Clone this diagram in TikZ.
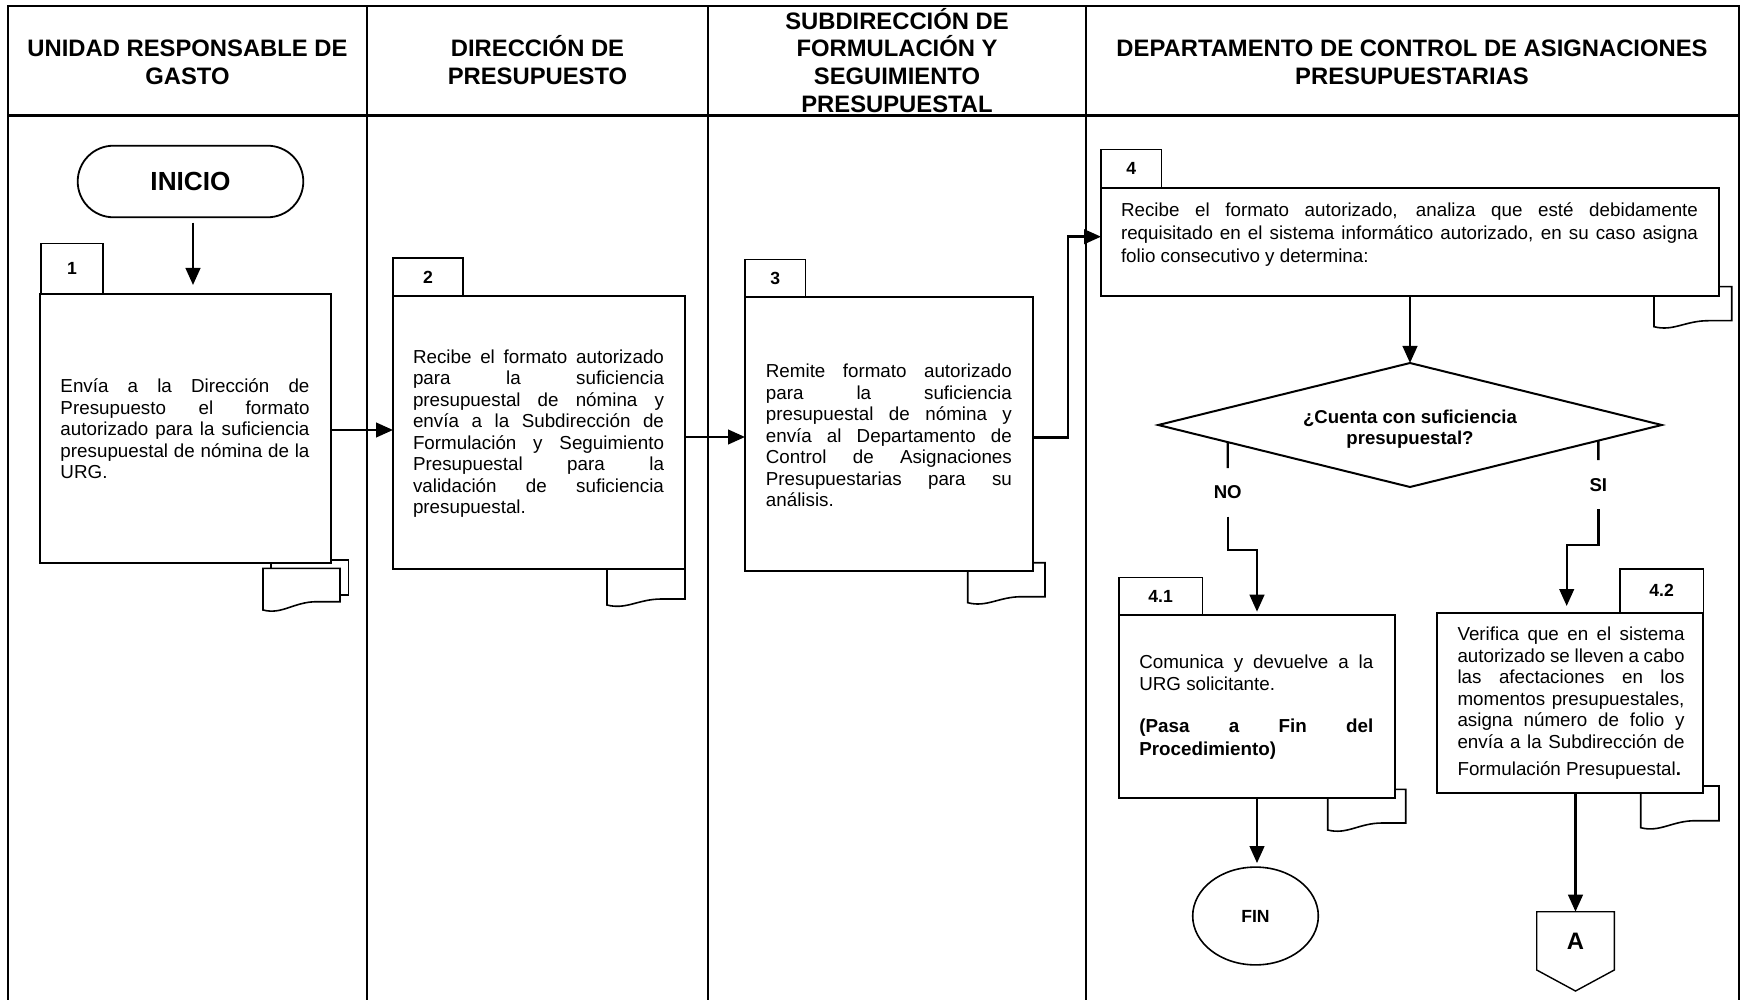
\documentclass[tikz,border=0pt]{standalone}
\usepackage{fontspec}
\setmainfont{Liberation Sans}
\usetikzlibrary{arrows.meta,shapes.geometric,calc}
\setlength{\parindent}{0pt}
% document symbol: left x, right x, top y, bottom-left y, bottom-right y
\newcommand{\docsheet}[5]{%
  \draw[doc] (#1,#3) -- (#2,#3) -- (#2,#5) -- ({#1+0.7*(#2-#1)},#5)
    .. controls ({#1+0.4*(#2-#1)},#5) and ({#1+0.25*(#2-#1)},{#4+5}) .. (#1,#4) -- cycle;}
\begin{document}
\begin{tikzpicture}[x=0.5pt,y=-0.5pt,
  frame/.style={line width=1.1pt},
  stepbox/.style={draw, fill=white, line width=1pt, inner sep=0pt, outer sep=0pt},
  tabbox/.style={draw, fill=white, line width=0.65pt, inner sep=0pt, outer sep=0pt,
    font=\bfseries\fontsize{8.8pt}{10pt}\selectfont},
  doc/.style={draw, fill=white, line width=0.8pt},
  body/.style={inner sep=0pt, outer sep=0pt, align=justify,
    font=\fontsize{9.4pt}{10.75pt}\selectfont,
    execute at begin node={\tolerance=10000\hbadness=10000\hyphenpenalty=10000\exhyphenpenalty=10000}},
  head/.style={align=center, inner sep=0pt, font=\bfseries\fontsize{11.9pt}{13.8pt}\selectfont},
  conn/.style={line width=1.2pt, -{Triangle[length=8.5pt,width=7.3pt]}},
  link/.style={line width=1.2pt},
  branch/.style={inner sep=0pt, outer sep=0pt, font=\bfseries\fontsize{9.3pt}{11pt}\selectfont},
]
\useasboundingbox (0,0) rectangle (1741,1000);

% swimlane frame
\draw[frame] (8,1000) -- (8,6) -- (1739,6) -- (1739,1000);
\draw[frame] (8,115.5) -- (1739,115.5);
\foreach \x in {367,707.7,1086} \draw[frame] (\x,6) -- (\x,1000);

% lane headings
\node[head] (h1) at (187.5,62.5) {UNIDAD RESPONSABLE DE\\GASTO};
\node[head] (h2) at (537.5,60) {DIRECCIÓN DE\\PRESUPUESTO};
\node[head] (h3) at (897,60.2) {SUBDIRECCIÓN DE\\FORMULACIÓN Y\\SEGUIMIENTO\\PRESUPUESTAL};
\node[head] (h4) at (1412,62.5) {DEPARTAMENTO DE CONTROL DE ASIGNACIONES\\PRESUPUESTARIAS};

% document symbols under the steps
\draw[doc] (271,560) rectangle (348.3,595);
\docsheet{263}{340}{568.3}{610}{601.7}
\docsheet{607}{685}{569}{605}{599}
\docsheet{967.7}{1045}{562.7}{602.7}{596.7}
\docsheet{1654}{1731.7}{286.7}{326.7}{320.7}
\docsheet{1327.7}{1405.7}{789.3}{830}{823}
\docsheet{1640.7}{1719}{786}{827.7}{820.7}

% step number tabs
\node[tabbox, minimum width=31pt, minimum height=25.15pt] (k1) at (72,268.85) {1};
\node[tabbox, minimum width=35pt, minimum height=19pt] (k2) at (428,277) {2};
\node[tabbox, minimum width=30.35pt, minimum height=18.65pt] (k3) at (775.35,278.35) {3};
\node[tabbox, minimum width=30.35pt, minimum height=19.2pt] (k4) at (1131.35,168.5) {4};
\node[tabbox, minimum width=41.65pt, minimum height=18.85pt] (k41) at (1160.65,596.15) {4.1};
\node[tabbox, minimum width=41.65pt, minimum height=21.85pt] (k42) at (1661.65,590.85) {4.2};

% step boxes
\node[stepbox, minimum width=145.5pt, minimum height=134.5pt] (b1) at (185.5,428.5) {};
\node[stepbox, minimum width=146pt, minimum height=136.5pt] (b2) at (539,432.5) {};
\node[stepbox, minimum width=144pt, minimum height=137pt] (b3) at (889,434) {};
\node[stepbox, minimum width=309pt, minimum height=54pt] (b4) at (1410,241.7) {};
\node[stepbox, minimum width=138pt, minimum height=91.35pt] (b41) at (1257,706.35) {};
\node[stepbox, minimum width=133.3pt, minimum height=90.3pt] (b42) at (1570,703) {};

% step texts
\node[body, text width=124.5pt] (t1) at (185,429) {Envía a la Dirección de\linebreak Presupuesto el formato\linebreak autorizado para la suficiencia\linebreak presupuestal de nómina de la\linebreak URG.};
\node[body, text width=125.5pt] (t2) at (538.5,433.5) {Recibe el formato autorizado\linebreak para la suficiencia\linebreak presupuestal de nómina y\linebreak envía a la Subdirección de\linebreak Formulación y Seguimiento\linebreak Presupuestal para la\linebreak validación de suficiencia\linebreak presupuestal.};
\node[body, text width=123pt] (t3) at (888.9,435.4) {Remite formato autorizado\linebreak para la suficiencia\linebreak presupuestal de nómina y\linebreak envía al Departamento de\linebreak Control de Asignaciones\linebreak Presupuestarias para su\linebreak análisis.};
\node[body, text width=288.5pt, font=\fontsize{9.4pt}{11.5pt}\selectfont] (t4) at (1409.5,234.5) {Recibe el formato autorizado, analiza que esté debidamente\linebreak requisitado en el sistema informático autorizado, en su caso asigna\linebreak folio consecutivo y determina:};
\node[body, text width=117pt, font=\fontsize{9.4pt}{11.3pt}\selectfont] (t41) at (1256.3,707) {Comunica y devuelve a la\linebreak URG solicitante.\par\vspace{9.8pt}\textbf{(Pasa a Fin del\linebreak Procedimiento)}};
\node[body, text width=113.5pt] (t42) at (1571,703.4) {Verifica que en el sistema\linebreak autorizado se lleven a cabo\linebreak las afectaciones en los\linebreak momentos presupuestales,\linebreak asigna número de folio y\linebreak envía a la Subdirección de\vadjust{\vskip2.95pt}\linebreak Formulación Presupuestal\textbf{.}};

% start, decision, end and off-page connector
\node[draw, line width=0.9pt, rounded corners=17.9pt, minimum width=112.8pt, minimum height=35.8pt,
  inner sep=0pt, outer sep=0pt, font=\bfseries\fontsize{13.1pt}{15pt}\selectfont] (inicio) at (190.5,181.5) {INICIO};
\node[diamond, draw, fill=white, line width=1pt, aspect=4.06, minimum width=251.7pt, minimum height=62pt,
  inner sep=0pt, outer sep=0pt] (dec) at (1410,425) {};
\node[inner sep=0pt, align=center, font=\bfseries\fontsize{9.3pt}{10.8pt}\selectfont] (qtext) at (1410,429) {¿Cuenta con suficiencia\\presupuestal?};
\node[draw, ellipse, line width=0.8pt, minimum width=62.8pt, minimum height=48.9pt, inner sep=0pt, outer sep=0pt,
  font=\bfseries\fontsize{8.8pt}{10pt}\selectfont] (fin) at (1255.5,916) {FIN};
\node[minimum width=38.8pt, minimum height=39.65pt, inner sep=0pt, outer sep=0pt] (offpage) at (1575.5,951.35) {};
\draw[line width=0.7pt, fill=white] (offpage.north west) -- (offpage.north east) -- ([yshift=10.5pt]offpage.south east)
  -- (offpage.south) -- ([yshift=10.5pt]offpage.south west) -- cycle;
\node[inner sep=0pt, font=\bfseries\fontsize{11.9pt}{14pt}\selectfont] (alabel) at (1575.5,941.7) {A};

% flow
\draw[conn, shorten <=2.7pt, shorten >=4.5pt] ([xshift=1.25pt]inicio.south) -- ([xshift=1.25pt]inicio.south |- b1.north);
\draw[conn] ([yshift=-0.75pt]b1.east) -- ([yshift=-0.75pt]b1.east -| b2.west);
\draw[conn] ([yshift=-2.25pt]b2.east) -- ([yshift=-2.25pt]b2.east -| b3.west);
\coordinate (j34) at (1067.7,437.3);
\draw[conn] (b3.east |- j34) -- (j34) |- ([yshift=2.5pt]b4.west);
\draw[conn] (b4.south) -- (dec.north);

% NO branch
\coordinate (nostart) at ($(dec.west)!0.2757!(dec.south)$);
\node[branch, minimum height=24.35pt] (nolbl) at (1227.7,492.35) {NO};
\coordinate (nobend) at (1227.7,550);
\draw[link] (nostart) -- (nolbl.north);
\draw[conn, shorten >=1.65pt] (nolbl.south) -- (nobend) -| (b41.north);

% SI branch
\coordinate (sistart) at ($(dec.east)!0.2519!(dec.south)$);
\node[branch, minimum height=24.65pt] (silbl) at (1598.3,484.65) {SI};
\coordinate (sibend) at (1598.3,545);
\draw[link] (sistart) -- (silbl.north);
\draw[conn, shorten >=3.35pt] (silbl.south) -- (sibend) -| ([xshift=-1.65pt]b42.north);

\draw[conn, shorten >=2pt] (b41.south) -- (b41.south |- fin.north);
\draw[conn] (b42.south -| offpage.north) -- (offpage.north);
\end{tikzpicture}
\end{document}
